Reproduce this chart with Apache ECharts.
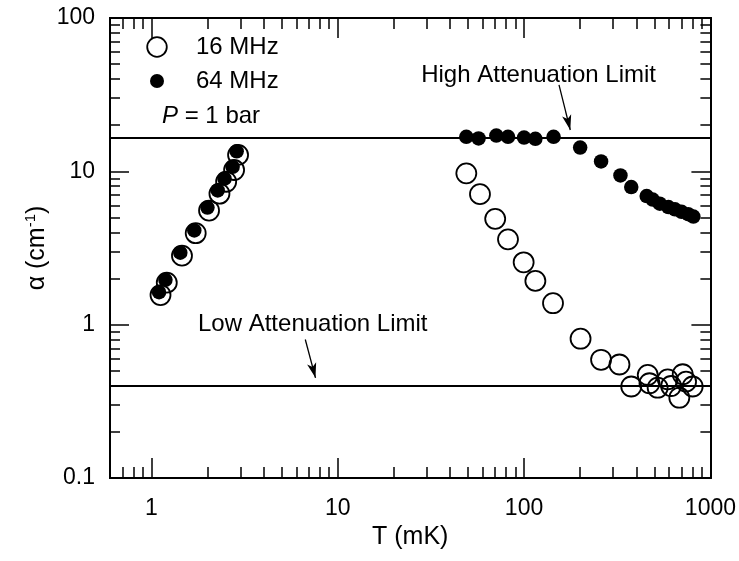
<!DOCTYPE html>
<html>
<head>
<meta charset="utf-8">
<script src="https://cdn.jsdelivr.net/npm/echarts@6/dist/echarts.min.js"></script>
<style>
  html, body { margin: 0; padding: 0; background: #fff; }
  #chart { width: 739px; height: 561px; }
</style>
</head>
<body>
<div id="chart"></div>
<script>
  // 16 MHz (open circles)
  var t16 = [1.12, 1.21, 1.46, 1.73, 2.04, 2.32, 2.52, 2.78, 2.92,
    49, 58, 70, 82, 99.5, 115, 143,
    201, 259, 325, 376, 461, 471, 521, 590, 615, 681, 710, 740, 803];
  var a16 = [1.56, 1.88, 2.82, 3.95, 5.55, 7.15, 8.55, 10.2, 12.8,
    9.7, 7.1, 4.9, 3.6, 2.55, 1.93, 1.38,
    0.81, 0.59, 0.55, 0.395, 0.47, 0.415, 0.388, 0.44, 0.398, 0.334, 0.475, 0.425, 0.395];

  // 64 MHz (filled circles)
  var t64 = [1.10, 1.19, 1.43, 1.70, 2.00, 2.27, 2.47, 2.73, 2.87,
    49, 57, 71, 82, 100, 115, 144,
    200, 259, 329, 376, 455, 490, 535, 595, 645, 700, 760, 810];
  var a64 = [1.63, 1.96, 2.95, 4.12, 5.8, 7.5, 8.95, 10.7, 13.5,
    16.8, 16.4, 17.1, 16.8, 16.6, 16.3, 16.8,
    14.3, 11.6, 9.4, 7.9, 6.9, 6.55, 6.15, 5.85, 5.65, 5.45, 5.25, 5.07];

  var highLimit = 16.5;
  var lowLimit = 0.4;
  var highArrow = [[154, 36.6], [177, 18.6]];
  var lowArrow = [[6.7, 0.80], [7.6, 0.45]];

  var xMajor = [1, 10, 100, 1000];
  var xMinor = [0.7, 0.8, 0.9, 2, 3, 4, 5, 6, 7, 8, 9, 20, 30, 40, 50, 60, 70, 80, 90,
    200, 300, 400, 500, 600, 700, 800, 900];
  var yMajor = [0.1, 1, 10, 100];
  var yMinor = [0.2, 0.3, 0.4, 0.5, 0.6, 0.7, 0.8, 0.9, 2, 3, 4, 5, 6, 7, 8, 9,
    20, 30, 40, 50, 60, 70, 80, 90];

  function pairs(xs, ys) {
    return xs.map(function (x, i) { return [x, ys[i]]; });
  }

  var font = '"Liberation Sans", Arial, sans-serif';
  var black = '#000';

  function axis(dir, pos, ticks, len, labels) {
    var a = {
      type: 'log', position: pos, logBase: 10,
      min: dir === 'x' ? 0.6 : 0.1,
      max: dir === 'x' ? 1000 : 100,
      axisLine: { show: true, lineStyle: { color: black, width: 2 } },
      axisTick: { show: true, inside: true, length: len, customValues: ticks, lineStyle: { color: black, width: 1.5 } },
      minorTick: { show: false },
      splitLine: { show: false },
      axisLabel: labels ? {
        show: true, customValues: ticks, color: black, fontSize: 23, fontFamily: font,
        margin: dir === 'x' ? 19 : 15,
        formatter: function (v) { return String(Math.round(v * 1000) / 1000); }
      } : { show: false }
    };
    if (labels && dir === 'x') {
      a.name = 'T (mK)';
      a.nameLocation = 'middle';
      a.nameGap = 47;
      a.nameTextStyle = { color: black, fontSize: 25, fontFamily: font };
    }
    if (labels && dir === 'y') {
      a.name = '{a|α (cm}{s|-1}{a|)}';
      a.nameLocation = 'middle';
      a.nameGap = 58;
      a.nameMoveOverlap = false;
      a.nameRotate = 90;
      a.nameTextStyle = {
        color: black, fontFamily: font,
        rich: {
          a: { fontSize: 25, fontFamily: font, color: black },
          s: { fontSize: 15, fontFamily: font, color: black, padding: [0, 0, 14, 0] }
        }
      };
    }
    return a;
  }

  var chart = echarts.init(document.getElementById('chart'), null, { renderer: 'canvas' });

  chart.setOption({
    animation: false,
    backgroundColor: '#fff',
    grid: { left: 110, right: 28, top: 18, bottom: 83 },
    xAxis: [
      axis('x', 'bottom', xMajor, 20, true),
      axis('x', 'bottom', xMinor, 11, false),
      axis('x', 'top', xMajor, 20, false),
      axis('x', 'top', xMinor, 11, false)
    ],
    yAxis: [
      axis('y', 'left', yMajor, 19, true),
      axis('y', 'left', yMinor, 10, false),
      axis('y', 'right', yMajor, 19, false),
      axis('y', 'right', yMinor, 10, false)
    ],
    series: [
      {
        name: 'limits', type: 'line', data: [], silent: true,
        markLine: {
          silent: true, animation: false,
          label: { show: false },
          emphasis: { disabled: true },
          lineStyle: { color: black, width: 2, type: 'solid', opacity: 1 },
          symbol: 'none',
          data: [
            { yAxis: highLimit },
            { yAxis: lowLimit },
            [{ coord: highArrow[0], symbol: 'none' }, { coord: highArrow[1], symbol: 'arrow', symbolSize: [7, 15], lineStyle: { width: 1.3 } }],
            [{ coord: lowArrow[0], symbol: 'none' }, { coord: lowArrow[1], symbol: 'arrow', symbolSize: [7, 15], lineStyle: { width: 1.3 } }]
          ]
        }
      },
      {
        name: '16 MHz', type: 'scatter', data: pairs(t16, a16),
        symbol: 'circle', symbolSize: 20,
        itemStyle: { color: 'rgba(255,255,255,0)', borderColor: black, borderWidth: 1.8, opacity: 1 },
        emphasis: { disabled: true }
      },
      {
        name: '64 MHz', type: 'scatter', data: pairs(t64, a64),
        symbol: 'circle', symbolSize: 14.5,
        itemStyle: { color: black, opacity: 1 },
        emphasis: { disabled: true }
      }
    ],
    graphic: [
      { type: 'circle', shape: { cx: 157, cy: 47, r: 9.8 }, style: { fill: 'none', stroke: black, lineWidth: 1.8 } },
      { type: 'text', x: 196, y: 47, style: { text: '16 MHz', font: '24px ' + font, fill: black, verticalAlign: 'middle' } },
      { type: 'circle', shape: { cx: 157, cy: 81, r: 7 }, style: { fill: black } },
      { type: 'text', x: 196, y: 81, style: { text: '64 MHz', font: '24px ' + font, fill: black, verticalAlign: 'middle' } },
      {
        type: 'text', x: 162, y: 116,
        style: {
          text: '{i|P} = 1 bar', fill: black, font: '24px ' + font, verticalAlign: 'middle',
          rich: { i: { fontStyle: 'italic', fontSize: 24, fontFamily: font } }
        }
      },
      { type: 'text', x: 656, y: 75, style: { text: 'High Attenuation Limit', font: '24px ' + font, fill: black, align: 'right', verticalAlign: 'middle' } },
      { type: 'text', x: 198, y: 324, style: { text: 'Low Attenuation Limit', font: '24px ' + font, fill: black, align: 'left', verticalAlign: 'middle' } }
    ]
  });
</script>
</body>
</html>
